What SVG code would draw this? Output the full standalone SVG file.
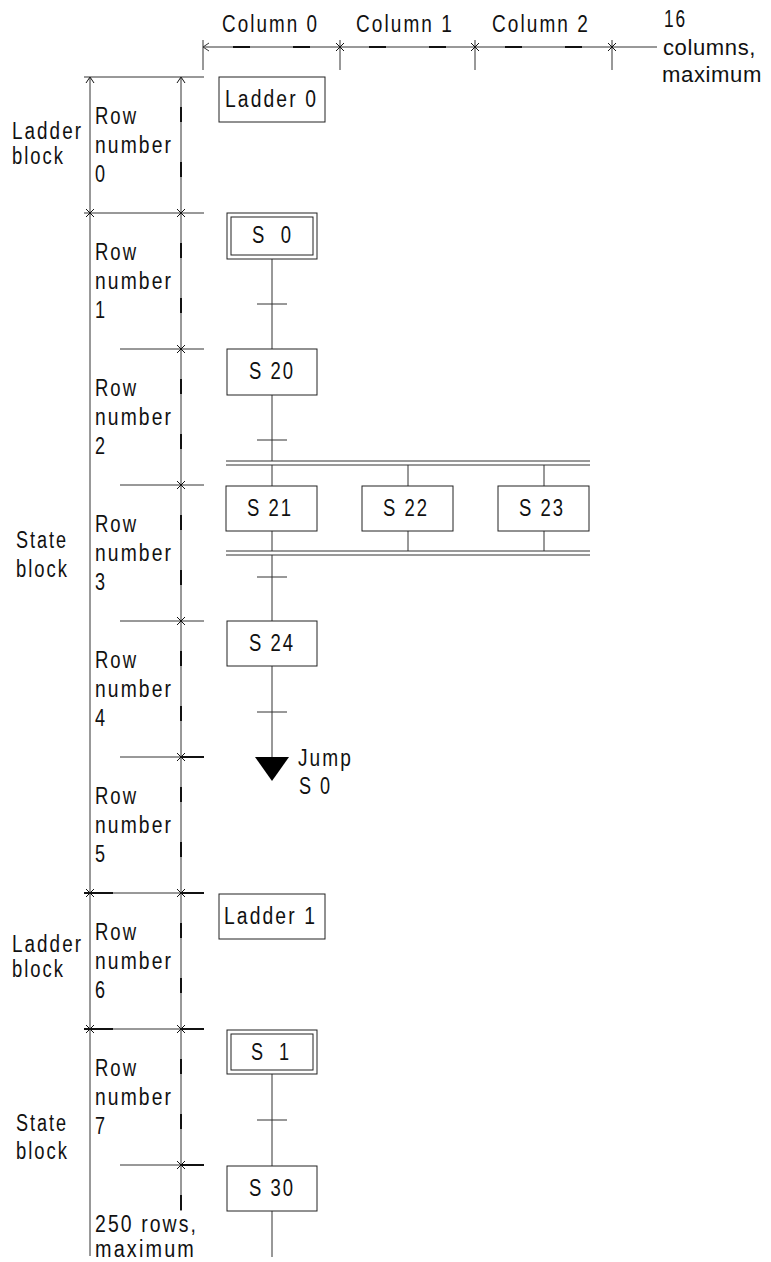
<svg xmlns="http://www.w3.org/2000/svg" width="771" height="1262" viewBox="0 0 771 1262">
<style>
text{font-family:"Liberation Sans",Arial,sans-serif;font-size:23px;letter-spacing:2.5px;fill:#111}
.ns{letter-spacing:0.6px;font-size:22px}
.box{fill:#fff;stroke:#222;stroke-width:1}
.ln{stroke:#333;stroke-width:1;fill:none}
.thk{stroke:#111;stroke-width:2;fill:none}
.dsh{stroke:#111;stroke-width:2;fill:none}
</style>
<defs>
<path id="x" d="M-4,-4L4,4M-4,4L4,-4" stroke="#111" stroke-width="1" fill="none"/>
<path id="up" d="M-4,6L0,0L4,6" stroke="#111" stroke-width="1" fill="none"/>
</defs>
<rect width="771" height="1262" fill="#fff"/>

<g id="column-ruler">
<line class="ln" x1="203" y1="47" x2="657" y2="47" stroke="#555"/>
<line class="dsh" x1="203" y1="47" x2="612" y2="47" stroke-dasharray="0 30 17 43 17 29"/>
<path class="ln" d="M209,43L203,47L209,51"/>
<line class="ln" x1="203" y1="40" x2="203" y2="70"/>
<line class="ln" x1="340" y1="40" x2="340" y2="70" stroke-width="1.5"/>
<line class="ln" x1="475" y1="40" x2="475" y2="70" stroke-width="1.5"/>
<line class="ln" x1="612" y1="40" x2="612" y2="70" stroke-width="1.5"/>
<use href="#x" x="340" y="47"/>
<use href="#x" x="475" y="47"/>
<use href="#x" x="612" y="47"/>
<text x="222" y="32" textLength="97" lengthAdjust="spacingAndGlyphs">Column 0</text>
<text x="356" y="32" textLength="98" lengthAdjust="spacingAndGlyphs">Column 1</text>
<text x="492" y="32" textLength="98" lengthAdjust="spacingAndGlyphs">Column 2</text>
<text x="664" y="27" textLength="23" lengthAdjust="spacingAndGlyphs">16</text>
<text class="ns" x="663" y="55" textLength="93" lengthAdjust="spacingAndGlyphs">columns,</text>
<text class="ns" x="662" y="82" textLength="100" lengthAdjust="spacingAndGlyphs">maximum</text>
</g>

<g id="row-ruler">
<line class="ln" x1="90" y1="77" x2="90" y2="1256"/>
<line class="ln" x1="181" y1="77" x2="181" y2="1211"/>
<line class="dsh" x1="181" y1="77" x2="181" y2="1211" stroke-dasharray="0 30 15 40 15 36"/>
<use href="#up" x="90" y="77"/>
<use href="#up" x="181" y="77"/>
<line class="ln" x1="84" y1="77" x2="204" y2="77"/>
<line class="ln" x1="84" y1="213" x2="204" y2="213"/>
<line class="ln" x1="120" y1="349" x2="204" y2="349"/>
<line class="ln" x1="120" y1="485" x2="204" y2="485"/>
<line class="ln" x1="120" y1="621" x2="204" y2="621"/>
<line class="ln" x1="120" y1="757" x2="204" y2="757"/>
<line class="ln" x1="84" y1="893" x2="204" y2="893"/>
<line class="ln" x1="84" y1="1029" x2="204" y2="1029"/>
<line class="ln" x1="120" y1="1165" x2="204" y2="1165"/>
<line class="thk" x1="181" y1="757" x2="204" y2="757"/>
<line class="thk" x1="84" y1="893" x2="113" y2="893"/>
<line class="thk" x1="181" y1="893" x2="204" y2="893"/>
<line class="thk" x1="84" y1="1029" x2="113" y2="1029"/>
<line class="thk" x1="181" y1="1029" x2="204" y2="1029"/>
<line class="thk" x1="181" y1="1165" x2="204" y2="1165"/>
<use href="#x" x="90" y="213"/><use href="#x" x="181" y="213"/>
<use href="#x" x="181" y="349"/>
<use href="#x" x="181" y="485"/>
<use href="#x" x="181" y="621"/>
<use href="#x" x="181" y="757"/>
<use href="#x" x="90" y="893"/><use href="#x" x="181" y="893"/>
<use href="#x" x="90" y="1029"/><use href="#x" x="181" y="1029"/>
<use href="#x" x="181" y="1165"/>
</g>

<g id="row-labels">
<text x="95" y="124" textLength="43" lengthAdjust="spacingAndGlyphs">Row</text><text x="95" y="153" textLength="78" lengthAdjust="spacingAndGlyphs">number</text><text x="95" y="182" textLength="12" lengthAdjust="spacingAndGlyphs">0</text>
<text x="95" y="260" textLength="43" lengthAdjust="spacingAndGlyphs">Row</text><text x="95" y="289" textLength="78" lengthAdjust="spacingAndGlyphs">number</text><text x="95" y="318" textLength="12" lengthAdjust="spacingAndGlyphs">1</text>
<text x="95" y="396" textLength="43" lengthAdjust="spacingAndGlyphs">Row</text><text x="95" y="425" textLength="78" lengthAdjust="spacingAndGlyphs">number</text><text x="95" y="454" textLength="12" lengthAdjust="spacingAndGlyphs">2</text>
<text x="95" y="532" textLength="43" lengthAdjust="spacingAndGlyphs">Row</text><text x="95" y="561" textLength="78" lengthAdjust="spacingAndGlyphs">number</text><text x="95" y="590" textLength="12" lengthAdjust="spacingAndGlyphs">3</text>
<text x="95" y="668" textLength="43" lengthAdjust="spacingAndGlyphs">Row</text><text x="95" y="697" textLength="78" lengthAdjust="spacingAndGlyphs">number</text><text x="95" y="726" textLength="12" lengthAdjust="spacingAndGlyphs">4</text>
<text x="95" y="804" textLength="43" lengthAdjust="spacingAndGlyphs">Row</text><text x="95" y="833" textLength="78" lengthAdjust="spacingAndGlyphs">number</text><text x="95" y="862" textLength="12" lengthAdjust="spacingAndGlyphs">5</text>
<text x="95" y="940" textLength="43" lengthAdjust="spacingAndGlyphs">Row</text><text x="95" y="969" textLength="78" lengthAdjust="spacingAndGlyphs">number</text><text x="95" y="998" textLength="12" lengthAdjust="spacingAndGlyphs">6</text>
<text x="95" y="1076" textLength="43" lengthAdjust="spacingAndGlyphs">Row</text><text x="95" y="1105" textLength="78" lengthAdjust="spacingAndGlyphs">number</text><text x="95" y="1134" textLength="12" lengthAdjust="spacingAndGlyphs">7</text>
<text x="95" y="1232" textLength="103" lengthAdjust="spacingAndGlyphs">250 rows,</text><text x="95" y="1257" textLength="101" lengthAdjust="spacingAndGlyphs">maximum</text>
</g>

<g id="block-labels">
<text x="12" y="139" textLength="71" lengthAdjust="spacingAndGlyphs">Ladder</text><text x="12" y="164" textLength="53" lengthAdjust="spacingAndGlyphs">block</text>
<text x="16" y="548" textLength="52" lengthAdjust="spacingAndGlyphs">State</text><text x="16" y="577" textLength="53" lengthAdjust="spacingAndGlyphs">block</text>
<text x="12" y="952" textLength="71" lengthAdjust="spacingAndGlyphs">Ladder</text><text x="12" y="977" textLength="53" lengthAdjust="spacingAndGlyphs">block</text>
<text x="16" y="1131" textLength="52" lengthAdjust="spacingAndGlyphs">State</text><text x="16" y="1159" textLength="53" lengthAdjust="spacingAndGlyphs">block</text>
</g>

<g id="connectors">
<line class="ln" x1="272" y1="259" x2="272" y2="349"/>
<line class="ln" x1="257" y1="304" x2="287" y2="304"/>
<line class="ln" x1="272" y1="395" x2="272" y2="461"/>
<line class="ln" x1="257" y1="440" x2="287" y2="440"/>
<line class="ln" x1="226" y1="461" x2="590" y2="461"/>
<line class="ln" x1="226" y1="465" x2="590" y2="465"/>
<line class="ln" x1="272" y1="465" x2="272" y2="486"/>
<line class="ln" x1="408" y1="465" x2="408" y2="486"/>
<line class="ln" x1="544" y1="465" x2="544" y2="486"/>
<line class="ln" x1="272" y1="531" x2="272" y2="551"/>
<line class="ln" x1="408" y1="531" x2="408" y2="551"/>
<line class="ln" x1="544" y1="531" x2="544" y2="551"/>
<line class="ln" x1="226" y1="551" x2="590" y2="551"/>
<line class="ln" x1="226" y1="555" x2="590" y2="555"/>
<line class="ln" x1="272" y1="555" x2="272" y2="621"/>
<line class="ln" x1="257" y1="577" x2="287" y2="577"/>
<line class="ln" x1="272" y1="666" x2="272" y2="757"/>
<line class="ln" x1="257" y1="712" x2="287" y2="712"/>
<line class="ln" x1="272" y1="1074" x2="272" y2="1166"/>
<line class="ln" x1="257" y1="1120" x2="287" y2="1120"/>
<line class="ln" x1="272" y1="1211" x2="272" y2="1257"/>
</g>

<g id="ladder0"><rect class="box" x="219" y="77" width="106" height="45"/><text x="225" y="107" textLength="93" lengthAdjust="spacingAndGlyphs">Ladder 0</text></g>
<g id="s0"><rect class="box" x="227" y="213" width="90" height="46"/><rect class="box" x="231" y="217" width="82" height="38"/><text x="252" y="243" xml:space="preserve" textLength="41" lengthAdjust="spacingAndGlyphs">S  0</text></g>
<g id="s20"><rect class="box" x="227" y="349" width="90" height="46"/><text x="249" y="379" textLength="46" lengthAdjust="spacingAndGlyphs">S 20</text></g>
<g id="s21"><rect class="box" x="226" y="486" width="91" height="45"/><text x="247" y="516" textLength="46" lengthAdjust="spacingAndGlyphs">S 21</text></g>
<g id="s22"><rect class="box" x="362" y="486" width="91" height="45"/><text x="383" y="516" textLength="46" lengthAdjust="spacingAndGlyphs">S 22</text></g>
<g id="s23"><rect class="box" x="498" y="486" width="91" height="45"/><text x="519" y="516" textLength="46" lengthAdjust="spacingAndGlyphs">S 23</text></g>
<g id="s24"><rect class="box" x="227" y="621" width="90" height="45"/><text x="249" y="651" textLength="46" lengthAdjust="spacingAndGlyphs">S 24</text></g>
<g id="jump"><path d="M255,757L289,757L272,781Z" fill="#000"/><text x="298" y="766" textLength="55" lengthAdjust="spacingAndGlyphs">Jump</text><text x="299" y="794" textLength="33" lengthAdjust="spacingAndGlyphs">S 0</text></g>
<g id="ladder1"><rect class="box" x="219" y="894" width="106" height="45"/><text x="224" y="924" textLength="93" lengthAdjust="spacingAndGlyphs">Ladder 1</text></g>
<g id="s1"><rect class="box" x="227" y="1030" width="90" height="44"/><rect class="box" x="231" y="1034" width="82" height="36"/><text x="251" y="1060" xml:space="preserve" textLength="40" lengthAdjust="spacingAndGlyphs">S  1</text></g>
<g id="s30"><rect class="box" x="227" y="1166" width="90" height="45"/><text x="249" y="1196" textLength="46" lengthAdjust="spacingAndGlyphs">S 30</text></g>
</svg>
